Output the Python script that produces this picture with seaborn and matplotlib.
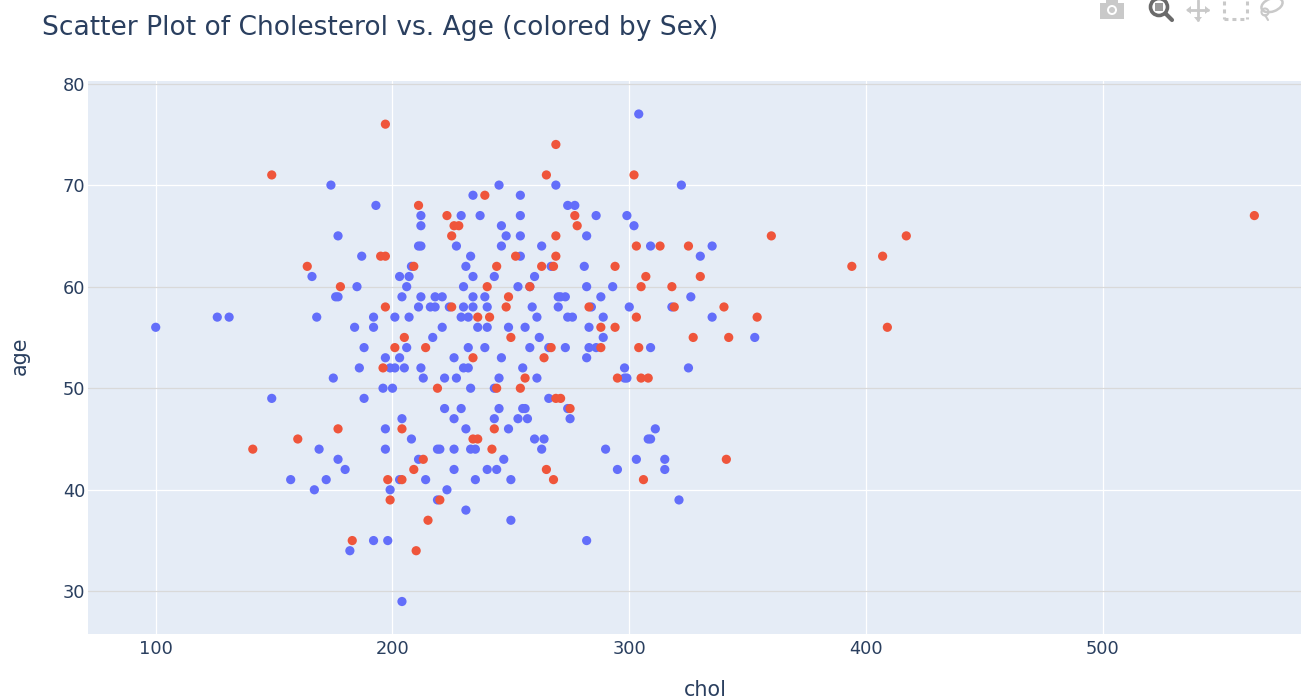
import pandas as pd
import seaborn as sns
import matplotlib.pyplot as plt
from matplotlib.patches import Circle, Rectangle, Polygon, Ellipse

# values, one row per age
ages_1 = [77, 70, 69, 68, 67, 66, 65, 64, 63, 62, 61, 60, 59, 58, 57, 56, 55, 54, 53, 52,
          51, 50, 49, 48, 47, 46, 45, 44, 43, 42, 41, 40, 39, 38, 37, 35, 34, 29]
chol_1 = [[304], [174, 245, 269, 322], [234, 254], [193, 274, 277],
          [212, 229, 237, 254, 286, 299], [212, 246, 302], [177, 248, 254, 282],
          [211, 212, 227, 246, 263, 309, 335], [187, 233, 254, 330], [208, 231, 267, 281],
          [166, 203, 207, 234, 243, 260], [185, 206, 230, 253, 258, 282, 293],
          [176, 177, 204, 212, 218, 221, 234, 239, 270, 271, 273, 288, 326],
          [211, 216, 218, 224, 230, 234, 240, 259, 270, 284, 300, 318],
          [126, 131, 168, 192, 201, 207, 229, 232, 261, 274, 276, 289, 335],
          [100, 184, 192, 221, 236, 240, 249, 256, 283], [217, 262, 289, 353],
          [188, 206, 232, 239, 258, 266, 273, 283, 286, 309], [197, 203, 226, 246, 282],
          [186, 199, 201, 205, 212, 230, 232, 255, 298, 325],
          [175, 213, 222, 227, 245, 261, 298, 299], [196, 200, 233, 243], [149, 188, 266],
          [222, 229, 245, 255, 256, 274], [204, 226, 243, 253, 257, 275],
          [197, 231, 249, 311], [208, 260, 264, 308, 309],
          [169, 197, 219, 220, 226, 233, 235, 263, 290], [177, 211, 247, 303, 315],
          [180, 226, 240, 244, 295, 315], [157, 172, 203, 214, 235, 250], [167, 199, 223],
          [219, 321], [231], [250], [192, 198, 282], [182], [204]]

ages_0 = [76, 74, 71, 69, 68, 67, 66, 65, 64, 63, 62, 61, 60, 59, 58, 57, 56, 55, 54, 53,
          52, 51, 50, 49, 48, 46, 45, 44, 43, 42, 41, 39, 37, 35, 34]
chol_0 = [[197], [269], [149, 265, 302], [239], [211], [223, 277, 564], [226, 228, 278],
          [225, 269, 360, 417], [303, 313, 325], [195, 197, 252, 269, 407],
          [164, 209, 244, 263, 268, 294, 394], [307, 330], [178, 240, 258, 305, 318], [249],
          [197, 225, 248, 283, 319, 340], [236, 241, 303, 354], [288, 294, 409],
          [205, 250, 327, 342], [201, 214, 267, 288, 304], [234, 264], [196],
          [256, 295, 305, 308], [219, 244, 254], [269, 271], [275], [177, 204, 243],
          [160, 234, 236], [141, 242], [213, 341], [209, 265], [198, 204, 268, 306],
          [199, 220], [215], [183], [210]]

x_ticks = [100, 200, 300, 400, 500]
y_ticks = [30, 40, 50, 60, 70, 80]

# blue rows come first so the red points sit on top
df_1 = pd.DataFrame({'age': ages_1, 'chol': chol_1, 'sex': 1}).explode('chol')
df_0 = pd.DataFrame({'age': ages_0, 'chol': chol_0, 'sex': 0}).explode('chol')
data = pd.concat([df_1, df_0], ignore_index=True)
data['chol'] = data['chol'].astype(int)

sns.set_style('white')
plt.rcParams['font.family'] = ['DejaVu Sans']
text_color = '#2a3f5f'

fig = plt.figure(figsize=(13.01, 7.0), dpi=100)
W, H = 1301, 700
ax = fig.add_axes([88 / W, 1 - 634 / H, (1301 - 88) / W, (634 - 81) / H])
ax.set_facecolor('#e5ecf6')

sns.scatterplot(data=data, x='chol', y='age', hue='sex', palette={1: '#636efa', 0: '#ef553b'},
                s=44, linewidth=0, legend=False, ax=ax, zorder=3)

ax.set_xlim(71.4, 583.7)
ax.set_ylim(25.8, 80.25)
ax.set_xticks(x_ticks)
ax.set_yticks(y_ticks)
ax.grid(True, color='white', linewidth=0.9)
ax.set_axisbelow(True)
# some horizontal lines look greyer in the reference
for tick, line in zip(y_ticks, ax.get_ygridlines()):
    if tick in (30, 50, 60, 80):
        line.set_color('#d9d9d9')
for spine in ax.spines.values():
    spine.set_visible(False)
ax.tick_params(length=0, labelsize=12.8, labelcolor=text_color, pad=2)
ax.tick_params(axis='x', pad=4)
ax.set_xlabel('')
ax.set_ylabel('')

fig.text(705 / W, 1 - 696 / H, 'chol', fontsize=14.9, color=text_color, ha='center', va='baseline')
fig.text(20 / W, 1 - 356 / H, 'age', fontsize=14.9, color=text_color, ha='center', va='center',
         rotation=90)
fig.text(42 / W, 1 - 35 / H, 'Scatter Plot of Cholesterol vs. Age (colored by Sex)', fontsize=19.1,
         color=text_color, ha='left', va='baseline')

# modebar icons, in pixel coordinates
bar = fig.add_axes([0, 0, 1, 1], facecolor='none')
bar.set_xlim(0, W)
bar.set_ylim(H, 0)
bar.axis('off')
light = '#c9c9c9'
dark = '#6a6a6a'
bar.add_patch(Rectangle((1100, 3), 24, 16, color=light, lw=0))
bar.add_patch(Rectangle((1106, 0), 12, 4, color=light, lw=0))
bar.add_patch(Circle((1112, 10), 5, color='white', lw=0))
bar.add_patch(Circle((1112, 10), 3, color=light, lw=0))
bar.add_patch(Circle((1159, 7), 8.5, fill=False, ec=dark, lw=2.6))
bar.add_patch(Rectangle((1155, 3), 8, 8, color='#9a9a9a', lw=0))
bar.plot([1166, 1172], [14, 20], color=dark, lw=3)
bar.plot([1188, 1208], [10, 10], color=light, lw=2)
bar.plot([1198, 1198], [0, 20], color=light, lw=2)
bar.add_patch(Polygon([[1186, 10], [1191, 6], [1191, 14]], color=light, lw=0))
bar.add_patch(Polygon([[1210, 10], [1205, 6], [1205, 14]], color=light, lw=0))
bar.add_patch(Polygon([[1198, 22], [1194, 17], [1202, 17]], color=light, lw=0))
bar.plot([1224, 1247], [19, 19], color=light, lw=2.2, ls=(0, (1.3, 1.3)))
bar.plot([1224, 1224], [1, 19], color=light, lw=2.2, ls=(0, (1.3, 1.3)))
bar.plot([1247, 1247], [1, 19], color=light, lw=2.2, ls=(0, (1.3, 1.3)))
bar.add_patch(Ellipse((1272, 5), 22, 13, angle=-20, fill=False, ec=light, lw=1.8))
bar.add_patch(Circle((1265, 12), 3.5, fill=False, ec=light, lw=1.5))
bar.plot([1265, 1268], [15, 20], color=light, lw=1.5)

fig.savefig('out.png', dpi=100, facecolor='white')
